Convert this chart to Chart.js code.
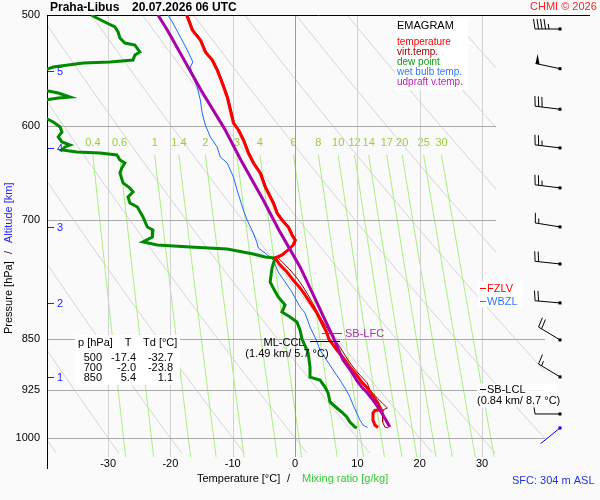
<!DOCTYPE html>
<html><head><meta charset="utf-8">
<script src="https://cdn.jsdelivr.net/npm/chart.js@4.4.1/dist/chart.umd.min.js"></script>
<style>html,body{margin:0;padding:0;background:#fafafa;}canvas{display:block}</style>
</head><body>
<canvas id="c" width="600" height="500"></canvas>
<script>
// ---------- DATA ----------
const pressureTicks = [500, 600, 700, 850, 925, 1000];
const tempTicks = [-30, -20, -10, 0, 10, 20, 30];
const mixingRatios = [0.4, 0.6, 1, 1.4, 2, 3, 4, 6, 8, 10, 12, 14, 17, 20, 25, 30];
const dryAdiabatsC = [-40, -30, -20, -10, 0, 10, 20, 30, 40, 50, 60, 70, 80, 90, 100];

const tempP = [500, 512.4, 520.9, 531.3, 538.3, 547.2, 558.9, 571.9, 584.2, 596.8, 603.7, 613.7, 626.9, 637.2, 647.7, 662.8, 669.4, 680.4, 691.7, 699.6, 707.7, 717.0, 723.0, 728.9, 734.9, 740.9, 744.6, 753.2, 761.9, 771.9, 782.1, 791.1, 814.8, 828.3, 841.9, 850, 865.8, 880.1, 890.3, 902.1, 912.5, 921.5, 932.1, 942.8, 950.5, 954.5, 956.0, 960.0, 971.0, 979.0, 983.0];
const tempT = [-17.4, -16.5, -15.2, -14.4, -13.3, -12.5, -11.7, -10.9, -10.4, -9.9, -9.1, -8.3, -7.5, -6.7, -5.6, -4.8, -4.3, -3.5, -2.9, -2.1, -1.1, -0.5, 0.0, -0.3, -1.1, -2.1, -3.2, -2.4, -1.3, -0.3, 0.8, 1.6, 3.5, 4.3, 5.1, 5.4, 6.7, 8.0, 8.8, 9.9, 10.7, 11.6, 12.4, 13.2, 13.6, 13.8, 12.8, 12.5, 12.5, 12.8, 13.3];

const virtP = [500, 512.4, 520.9, 531.3, 538.3, 547.2, 558.9, 571.9, 584.2, 596.8, 603.7, 613.7, 626.9, 637.2, 647.7, 662.8, 669.4, 680.4, 691.7, 699.6, 707.7, 717.0, 723.0, 728.9, 731.3, 740.9, 744.6, 750.7, 759.4, 769.4, 780.8, 791.1, 824.2, 841.9, 861.5, 880.1, 890.3, 902.1, 914.0, 924.5, 936.8, 944.4, 952.1, 955.2, 960.0, 974.2, 982.3, 983.8];
const virtT = [-17.2, -16.3, -15.0, -14.2, -13.1, -12.3, -11.5, -10.7, -10.2, -9.7, -8.9, -8.1, -7.3, -6.5, -5.4, -4.6, -4.1, -3.3, -2.7, -1.9, -0.9, -0.3, 0.2, -0.1, -0.8, -1.8, -2.7, -1.9, -0.8, 0.3, 1.3, 2.1, 4.3, 5.6, 7.2, 8.5, 9.3, 10.4, 11.6, 12.0, 13.2, 14.0, 14.8, 14.1, 14.0, 14.1, 14.4, 14.9];

const dewP = [500, 502.5, 506.6, 509.9, 514.1, 519.2, 523.5, 525.2, 531.3, 533.9, 538.3, 540.0, 540.9, 544.5, 548.9, 556.0, 564.0, 568.2, 571.9, 572.8, 575.5, 582.0, 589.0, 591.9, 595.8, 600.7, 605.7, 610.6, 615.7, 618.7, 620.7, 623.8, 625.9, 626.9, 628.9, 634.1, 637.2, 642.5, 647.7, 658.4, 663.9, 668.2, 673.8, 680.4, 684.9, 696.2, 707.7, 711.2, 719.4, 725.3, 728.9, 731.3, 733.7, 739.8, 743.4, 744.6, 757.0, 774.4, 782.1, 793.7, 804.2, 813.5, 820.1, 826.9, 837.8, 850, 870.0, 890.3, 905.1, 909.5, 920.0, 929.1, 942.8, 952.1, 958.4, 966.3, 974.2, 982.3, 983.5];
const dewT = [-32.7, -31.8, -30.2, -28.9, -28.4, -28.1, -27.3, -25.7, -24.9, -25.7, -26.0, -29.7, -34.0, -38.8, -41.0, -42.5, -41.5, -38.0, -36.1, -38.0, -41.0, -43.0, -42.0, -40.1, -38.8, -37.7, -37.4, -38.0, -37.4, -36.1, -36.9, -37.4, -35.0, -31.3, -28.6, -28.1, -27.3, -27.8, -28.1, -27.6, -26.5, -26.0, -26.8, -26.5, -25.3, -24.4, -23.7, -22.8, -22.9, -24.4, -22.1, -16.8, -10.9, -6.7, -4.8, -3.2, -3.7, -4.0, -3.5, -2.7, -1.6, -2.1, -0.8, 0.3, 0.8, 1.1, 2.1, 2.4, 2.4, 4.0, 4.8, 5.3, 5.6, 6.7, 7.5, 8.3, 8.8, 9.6, 9.9];

const wetP = [500, 506.6, 518.4, 529.5, 540.0, 544.5, 553.5, 562.6, 574.7, 587.1, 598.7, 610.6, 620.7, 631.0, 637.2, 651.9, 666.0, 677.1, 688.3, 699.6, 714.7, 726.5, 732.5, 738.6, 747.0, 761.9, 774.4, 787.2, 795.0, 806.8, 814.8, 833.7, 851.7, 865.8, 891.7, 909.5, 924.5, 935.2, 947.2, 960.0, 971.0, 979.0, 983.0];
const wetT = [-20.4, -19.6, -18.4, -17.3, -16.4, -16.8, -16.4, -15.7, -15.2, -14.9, -14.4, -13.6, -12.5, -12.0, -10.9, -9.9, -9.3, -8.8, -8.3, -7.7, -6.7, -6.1, -5.9, -4.8, -3.5, -2.7, -1.6, -0.5, 0.0, 0.8, 1.6, 2.4, 3.4, 4.0, 5.9, 7.2, 8.2, 8.8, 9.3, 9.9, 10.4, 10.9, 11.6];

const updP = [500, 512.4, 538.3, 565.4, 603.7, 634.1, 677.1, 711.2, 755.6, 787.2, 824.2, 847.5, 880.1, 895.0, 910.0, 920.0, 929.0, 940.0, 952.0, 968.0, 982.3];
const updT = [-22.0, -20.5, -17.8, -15.1, -11.2, -8.7, -5.1, -2.6, 0.8, 2.7, 4.8, 6.1, 7.7, 8.9, 9.9, 10.7, 11.6, 12.5, 13.4, 14.4, 15.2];

const altitudeKm = [1, 2, 3, 4, 5];
const altitudeP = [905.1, 801.5, 707.7, 621.7, 548.0];

const windP = [511.6, 546, 583.5, 621.7, 663.8, 707.6, 751.9, 801.5, 851.6, 904.8, 961.5, 983.8];
const windDir = [270, 282, 277, 277, 277, 279, 276, 275, 301, 301, 270, 231];
const windKt = [45, 50, 30, 25, 25, 15, 20, 20, 20, 15, 10, 3];

const tableP = [500, 700, 850];
const tableT = [-17.4, -2.0, 5.4];
const tableTd = [-32.7, -23.8, 1.1];

const fzlvP = 782, wbzlP = 799, lfcP = 842, cclP = 852.5, lclP = 923;

// ---------- STYLE ----------
const FONT = '"Liberation Sans", Arial, sans-serif';
const C_RED = '#ff0000', C_VIRT = '#990000', C_DEW = '#008a00', C_WET = '#1a6cff', C_UPD = '#aa00aa';

function series(P, T) { return P.map((p, i) => ({ x: T[i], y: p })); }

const emagram = {
  id: 'emagram',
  beforeDraw(chart) {
    const c = chart.ctx;
    c.save(); c.fillStyle = '#fafafa'; c.fillRect(0, 0, chart.width, chart.height); c.restore();
  },
  beforeDatasetsDraw(chart) {
    const c = chart.ctx, a = chart.chartArea, xs = chart.scales.x, ys = chart.scales.y;
    const X = t => xs.getPixelForValue(t), Y = p => ys.getPixelForValue(p);
    // dry adiabats
    c.save();
    c.beginPath();
    c.rect(a.left, a.top, 496 - a.left, 310 - a.top);
    c.rect(a.left, 310, a.right - a.left, a.bottom - 310);
    c.clip();
    c.strokeStyle = '#d4d4d4'; c.lineWidth = 1;
    for (const th of dryAdiabatsC) {
      c.beginPath();
      let first = true;
      for (let p = 490; p <= 1030; p += 5) {
        const t = (th + 273.15) * Math.pow(p / 1000, 0.2857) - 273.15;
        if (first) { c.moveTo(X(t), Y(p)); first = false; } else c.lineTo(X(t), Y(p));
      }
      c.stroke();
    }
    c.restore();
    // mixing ratio lines
    c.save();
    c.beginPath(); c.rect(a.left, a.top, a.right - a.left, a.bottom + 4 - a.top); c.clip();
    const td = (w, p) => { const e = w * p / (622 + w); const l = Math.log(e / 6.112); return 243.5 * l / (17.67 - l); };
    c.strokeStyle = '#a6f07a'; c.lineWidth = 1;
    for (const w of mixingRatios) {
      c.beginPath();
      let first = true;
      for (let p = 629; p <= 1035; p += 4) {
        if (first) { c.moveTo(X(td(w, p)), Y(p)); first = false; } else c.lineTo(X(td(w, p)), Y(p));
      }
      c.stroke();
    }
    c.restore();
    c.save();
    c.fillStyle = '#9ccc3c'; c.font = '11px ' + FONT; c.textAlign = 'center'; c.textBaseline = 'middle';
    for (const w of mixingRatios) c.fillText(String(w), X(td(w, 629)), Y(629) - 12);
    c.restore();
    // isotherms
    c.save();
    for (const t of tempTicks) {
      c.strokeStyle = t === 0 ? '#9a9a9a' : '#d2d2d2'; c.lineWidth = 1;
      const px = Math.round(X(t)) + 0.5;
      c.beginPath(); c.moveTo(px, a.top); c.lineTo(px, a.bottom + 4); c.stroke();
    }
    // isobars
    c.strokeStyle = '#aaaaaa';
    for (const p of pressureTicks) {
      if (p === 500) continue;
      const py = Math.round(Y(p)) + 0.5;
      c.beginPath(); c.moveTo(a.left, py); c.lineTo(p < 800 ? 496 : 545, py); c.stroke();
    }
    // frame
    c.strokeStyle = '#000';
    c.beginPath(); c.moveTo(a.left, Math.round(a.top) + 0.5); c.lineTo(590, Math.round(a.top) + 0.5); c.stroke();
    c.beginPath(); c.moveTo(Math.round(a.left) + 0.5, a.top); c.lineTo(Math.round(a.left) + 0.5, 469); c.stroke();
    c.restore();
  },
  afterDatasetsDraw(chart) {
    const c = chart.ctx, a = chart.chartArea, xs = chart.scales.x, ys = chart.scales.y;
    const Y = p => ys.getPixelForValue(p);
    c.save();
    c.textBaseline = 'middle';
    // wind barbs
    for (let i = 0; i < windP.length; i++) {
      const x0 = 560, y0 = Y(windP[i]);
      const d = windDir[i] * Math.PI / 180;
      const ux = Math.sin(d), uy = -Math.cos(d);
      const px = -uy, py = ux;
      const col = i === windP.length - 1 ? '#0000ff' : '#000';
      c.strokeStyle = col; c.fillStyle = col; c.lineWidth = 1;
      const L = 25;
      c.fillRect(x0 - 1.5, y0 - 1.5, 3, 3);
      c.beginPath(); c.moveTo(x0, y0); c.lineTo(x0 + ux * L, y0 + uy * L); c.stroke();
      let kt = windKt[i];
      const flags = Math.floor(kt / 50); kt -= flags * 50;
      const full = Math.floor(kt / 10); kt -= full * 10;
      const half = kt >= 5 ? 1 : 0;
      let pos = L;
      for (let f = 0; f < flags; f++) {
        const bx = x0 + ux * pos, by = y0 + uy * pos;
        c.beginPath(); c.moveTo(bx, by); c.lineTo(bx + px * 10, by + py * 10);
        c.lineTo(bx - ux * 4, by - uy * 4); c.closePath(); c.fill();
        pos -= 6;
      }
      for (let f = 0; f < full; f++) {
        const bx = x0 + ux * pos, by = y0 + uy * pos;
        c.beginPath(); c.moveTo(bx, by); c.lineTo(bx + px * 10 + ux * 1.5, by + py * 10 + uy * 1.5); c.stroke();
        pos -= 3.5;
      }
      if (half) {
        if (flags + full === 0) pos -= 3.5;
        const bx = x0 + ux * pos, by = y0 + uy * pos;
        c.beginPath(); c.moveTo(bx, by); c.lineTo(bx + px * 5 + ux * 0.8, by + py * 5 + uy * 0.8); c.stroke();
      }
    }
    // legend box
    c.fillStyle = '#ffffff'; c.fillRect(395, 18, 73, 72);
    c.textAlign = 'left';
    c.fillStyle = '#000'; c.font = '11px ' + FONT; c.fillText('EMAGRAM', 397, 26);
    c.font = '10px ' + FONT;
    const leg = [['temperature', '#ff0000'], ['virt.temp.', '#a00000'], ['dew point', '#119911'], ['wet bulb temp.', '#3377ff'], ['udpraft v.temp.', '#bb22bb']];
    leg.forEach((l, i) => { c.fillStyle = l[1]; c.fillText(l[0], 397, 42 + i * 10); });
    // data table
    c.fillStyle = '#ffffff'; c.fillRect(75, 335, 105, 50);
    c.fillStyle = '#000'; c.font = '11px ' + FONT;
    c.textAlign = 'left'; c.fillText('p [hPa]', 78, 343);
    c.textAlign = 'center'; c.fillText('T', 128, 343);
    c.textAlign = 'left'; c.fillText('Td [°C]', 143, 343);
    c.textAlign = 'right';
    for (let i = 0; i < tableP.length; i++) {
      const yy = 358 + i * 10;
      c.fillText(String(tableP[i]), 102, yy);
      c.fillText(tableT[i].toFixed(1), 136, yy);
      c.fillText(tableTd[i].toFixed(1), 173, yy);
    }
    // altitude labels
    c.textAlign = 'left'; c.fillStyle = '#2222ff'; c.strokeStyle = '#2222ff'; c.font = '11px ' + FONT;
    for (let i = 0; i < altitudeKm.length; i++) {
      const yy = Math.round(Y(altitudeP[i])) + 0.5;
      c.beginPath(); c.moveTo(48, yy); c.lineTo(54, yy); c.stroke();
      c.fillText(String(altitudeKm[i]), 57, yy);
    }
    // SB-LFC
    let yy = Math.round(Y(lfcP)) + 0.5;
    c.strokeStyle = '#aa22aa'; c.beginPath(); c.moveTo(322, yy); c.lineTo(342, yy); c.stroke();
    c.fillStyle = '#b030b0'; c.font = '11px ' + FONT; c.textAlign = 'left'; c.fillText('SB-LFC', 345, yy);
    // ML-CCL
    yy = Math.round(Y(cclP)) + 0.5;
    c.strokeStyle = '#000'; c.beginPath(); c.moveTo(310, yy); c.lineTo(340, yy); c.stroke();
    c.fillStyle = '#000'; c.textAlign = 'center';
    c.fillText('ML-CCL', 284, yy + 1); c.fillText('(1.49 km/ 5.7 °C)', 287, yy + 12);
    // FZLV / WBZL
    c.fillStyle = '#ffffff'; c.fillRect(478, Y(fzlvP) - 7, 44, 26);
    yy = Math.round(Y(fzlvP)) + 0.5;
    c.strokeStyle = C_RED; c.beginPath(); c.moveTo(480, yy); c.lineTo(486, yy); c.stroke();
    c.fillStyle = C_RED; c.textAlign = 'left'; c.fillText('FZLV', 487, yy);
    yy = Math.round(Y(wbzlP)) + 0.5;
    c.strokeStyle = '#3377ff'; c.beginPath(); c.moveTo(480, yy); c.lineTo(486, yy); c.stroke();
    c.fillStyle = '#3377ff'; c.fillText('WBZL', 487, yy);
    // SB-LCL
    yy = Math.round(Y(lclP)) + 0.5;
    c.fillStyle = 'rgba(255,255,255,0.85)'; c.fillRect(477, yy - 6, 80, 24);
    c.strokeStyle = '#000'; c.beginPath(); c.moveTo(480, yy); c.lineTo(486, yy); c.stroke();
    c.fillStyle = '#000'; c.fillText('SB-LCL', 487, yy); c.fillText('(0.84 km/ 8.7 °C)', 477, yy + 11);
    // titles
    c.fillStyle = '#000'; c.font = 'bold 12px ' + FONT; c.textAlign = 'left';
    c.fillText('Praha-Libus', 50, 8); c.fillText('20.07.2026 06 UTC', 132, 8);
    c.font = '11px ' + FONT; c.fillStyle = '#ff2020'; c.fillText('CHMI © 2026', 530, 7);
    c.fillStyle = '#2233dd'; c.fillText('SFC: 304 m ASL', 512, 481);
    // x axis title
    c.fillStyle = '#000'; c.fillText('Temperature [°C]', 197, 479); c.fillText('/', 287, 479);
    c.fillStyle = '#33cc33'; c.fillText('Mixing ratio [g/kg]', 302, 479);
    // y axis title
    c.save(); c.translate(9, 334); c.rotate(-Math.PI / 2);
    c.fillStyle = '#000'; c.fillText('Pressure [hPa]', 0, 0); c.fillText('/', 80, 0);
    c.fillStyle = '#2222ff'; c.fillText('Altitude [km]', 91, 0);
    c.restore();
    c.restore();
  }
};

new Chart(document.getElementById('c'), {
  type: 'scatter',
  data: {
    datasets: [
      { label: 'udpraft v.temp.', data: series(updP, updT), borderColor: C_UPD, borderWidth: 3 },
      { label: 'temperature', data: series(tempP, tempT), borderColor: C_RED, borderWidth: 3 },
      { label: 'virt.temp.', data: series(virtP, virtT), borderColor: C_VIRT, borderWidth: 1 },
      { label: 'dew point', data: series(dewP, dewT), borderColor: C_DEW, borderWidth: 3 },
      { label: 'wet bulb temp.', data: series(wetP, wetT), borderColor: C_WET, borderWidth: 1 }
    ].map(d => Object.assign(d, { showLine: true, pointRadius: 0, pointHoverRadius: 0, tension: 0, fill: false }))
  },
  options: {
    responsive: false,
    animation: false,
    devicePixelRatio: 1,
    layout: { padding: { top: 15, right: 55, left: 0, bottom: 0 } },
    plugins: { legend: { display: false }, tooltip: { enabled: false } },
    events: [],
    scales: {
      x: {
        type: 'linear', min: -39.8, max: 40.1, bounds: 'data',
        afterBuildTicks: s => { s.ticks = tempTicks.map(v => ({ value: v })); },
        afterFit: s => { s.height = 47; },
        grid: { display: false, drawTicks: false }, border: { display: false },
        ticks: { color: '#000', font: { size: 11, family: FONT }, padding: 4, maxRotation: 0, autoSkip: false, callback: v => String(v) }
      },
      y: {
        type: 'logarithmic', min: 500, max: 1025, reverse: true, bounds: 'data',
        afterBuildTicks: s => { s.ticks = pressureTicks.map(v => ({ value: v })); },
        afterFit: s => { s.width = 47; },
        grid: { display: false, drawTicks: false }, border: { display: false },
        ticks: { color: '#000', font: { size: 11, family: FONT }, padding: 7, autoSkip: false, callback: v => String(v) }
      }
    }
  },
  plugins: [emagram]
});
</script>
</body></html>
